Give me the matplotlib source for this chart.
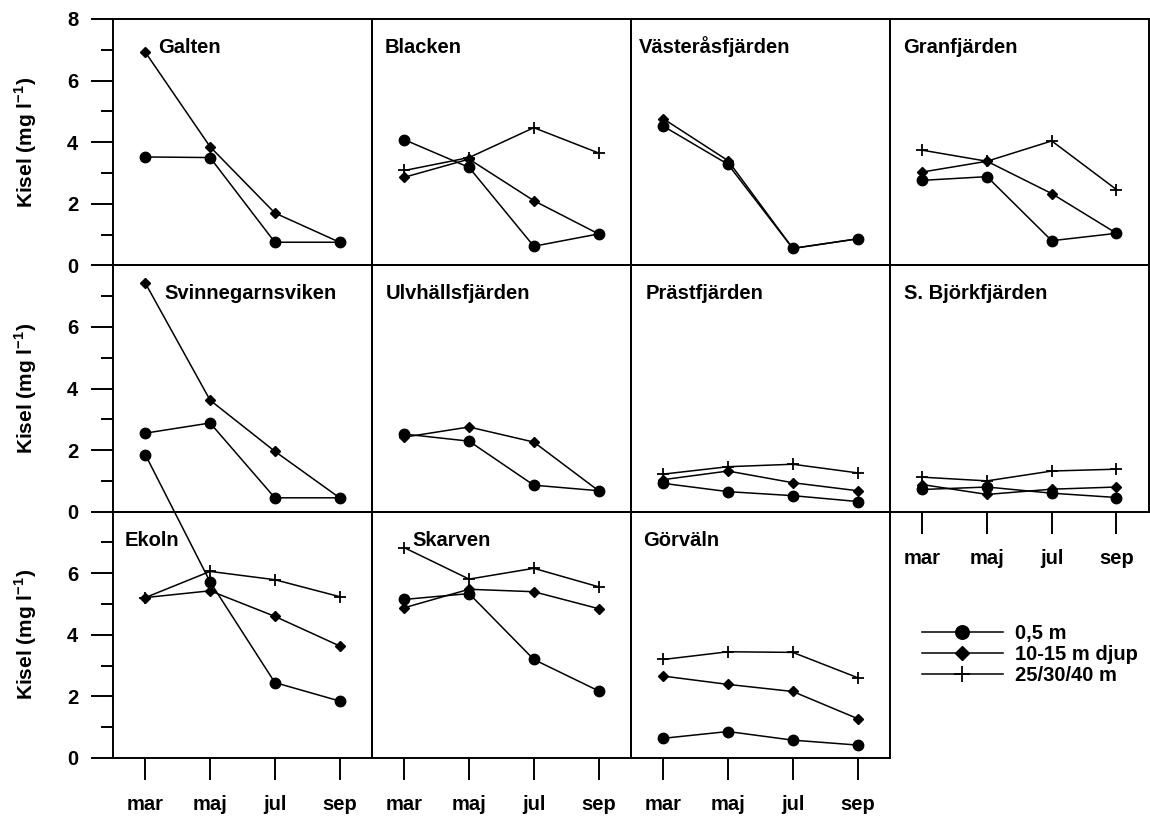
import matplotlib.pyplot as plt
from matplotlib.lines import Line2D

plt.rcParams['font.family'] = ['Liberation Sans', 'DejaVu Sans']
plt.rcParams['font.weight'] = 'bold'
plt.rcParams['mathtext.fontset'] = 'custom'
plt.rcParams['mathtext.rm'] = 'Liberation Sans:bold'
plt.rcParams['mathtext.bf'] = 'Liberation Sans:bold'

manader = ['mar', 'maj', 'jul', 'sep']
djup = ['0,5 m', '10-15 m djup', '25/30/40 m']

# Kisel (mg/l) per station och djup; None = inget prov på det djupet
galten_05 = [3.52, 3.50, 0.75, 0.75]
galten_10 = [6.92, 3.85, 1.70, 0.75]
galten_25 = None

blacken_05 = [4.08, 3.18, 0.62, 1.02]
blacken_10 = [2.86, 3.45, 2.10, 1.02]
blacken_25 = [3.08, 3.50, 4.47, 3.65]

vasteras_05 = [4.52, 3.28, 0.55, 0.86]
vasteras_10 = [4.76, 3.40, 0.55, 0.86]
vasteras_25 = None

granfj_05 = [2.76, 2.88, 0.80, 1.04]
granfj_10 = [3.03, 3.38, 2.33, 1.04]
granfj_25 = [3.74, 3.38, 4.04, 2.46]

svinne_05 = [2.55, 2.88, 0.45, 0.45]
svinne_10 = [7.42, 3.62, 1.96, 0.45]
svinne_25 = None

ulvhall_05 = [2.52, 2.29, 0.86, 0.68]
ulvhall_10 = [2.42, 2.75, 2.26, 0.68]
ulvhall_25 = None

prastfj_05 = [0.92, 0.65, 0.52, 0.33]
prastfj_10 = [1.04, 1.32, 0.94, 0.68]
prastfj_25 = [1.22, 1.46, 1.54, 1.26]

bjorkfj_05 = [0.72, 0.80, 0.60, 0.46]
bjorkfj_10 = [0.88, 0.56, 0.73, 0.80]
bjorkfj_25 = [1.12, 1.00, 1.32, 1.38]

ekoln_05 = [9.85, 5.72, 2.45, 1.85]
ekoln_10 = [5.21, 5.43, 4.60, 3.64]
ekoln_25 = [5.21, 6.06, 5.79, 5.24]

skarven_05 = [5.15, 5.34, 3.20, 2.18]
skarven_10 = [4.88, 5.48, 5.40, 4.85]
skarven_25 = [6.83, 5.81, 6.16, 5.56]

gorvaln_05 = [0.64, 0.86, 0.58, 0.42]
gorvaln_10 = [2.66, 2.39, 2.16, 1.28]
gorvaln_25 = [3.20, 3.45, 3.43, 2.61]

stationer = [
    ('Galten', galten_05, galten_10, galten_25),
    ('Blacken', blacken_05, blacken_10, blacken_25),
    ('Västeråsfjärden', vasteras_05, vasteras_10, vasteras_25),
    ('Granfjärden', granfj_05, granfj_10, granfj_25),
    ('Svinnegarnsviken', svinne_05, svinne_10, svinne_25),
    ('Ulvhällsfjärden', ulvhall_05, ulvhall_10, ulvhall_25),
    ('Prästfjärden', prastfj_05, prastfj_10, prastfj_25),
    ('S. Björkfjärden', bjorkfj_05, bjorkfj_10, bjorkfj_25),
    ('Ekoln', ekoln_05, ekoln_10, ekoln_25),
    ('Skarven', skarven_05, skarven_10, skarven_25),
    ('Görväln', gorvaln_05, gorvaln_10, gorvaln_25),
]

# titelns vänsterkant i axelkoordinater
titel_x = [0.174, 0.05, 0.03, 0.05, 0.20, 0.055, 0.058, 0.054, 0.046, 0.155, 0.046]

stilar = [
    dict(marker='o', markersize=7.5),
    dict(marker='D', markersize=5.5),
    dict(marker='+', markersize=9, markeredgewidth=1.3),
]

FS = 14.5
LW = 1.4

fig = plt.figure(figsize=(11.5, 8.16), dpi=100)
gs = fig.add_gridspec(3, 4, left=113 / 1150, right=0.999,
                      top=1 - 19 / 816, bottom=1 - 758 / 816,
                      wspace=0, hspace=0)

for i, (namn, v05, v10, v25) in enumerate(stationer):
    rad, kol = divmod(i, 4)
    ax = fig.add_subplot(gs[rad, kol])
    ax.set_facecolor('none')
    x = range(len(manader))
    for serie, stil in zip([v05, v10, v25], stilar):
        if serie is None:
            continue
        ax.plot(x, serie, color='black', linewidth=1.1, clip_on=False, **stil)

    ax.set_xlim(-0.5, 3.5)
    ax.set_ylim(0, 8)
    for sp in ax.spines.values():
        sp.set_linewidth(LW)

    ax.text(titel_x[i], 0.862, namn, transform=ax.transAxes,
            fontsize=FS, fontweight='bold', ha='left', va='baseline')

    if kol == 0:
        if rad == 0:
            ax.set_yticks([0, 2, 4, 6, 8])
        else:
            ax.set_yticks([0, 2, 4, 6])
        ax.set_yticks([1, 3, 5, 7], minor=True)
        ax.tick_params(axis='y', which='major', length=16, width=LW,
                       pad=9, labelsize=FS)
        ax.tick_params(axis='y', which='minor', length=9, width=LW)
        ax.set_ylabel(r'Kisel (mg l$^{\mathbf{-1}}$)', fontsize=FS + 0.5,
                      fontweight='bold')
        ax.yaxis.set_label_coords(-0.285, 0.5)
    else:
        ax.set_yticks([])

    if rad == 2 or i == 7:
        ax.set_xticks(list(x))
        ax.set_xticklabels(manader)
        ax.tick_params(axis='x', length=16, width=LW, pad=11, labelsize=FS)
    else:
        ax.set_xticks([])

# tom ruta nere till höger med teckenförklaring
handtag = [Line2D([], [], color='black', linewidth=1.1, **stil) for stil in stilar]
fig.legend(handtag, djup, loc='upper left',
           bbox_to_anchor=(922 / 1150, 1 - 624 / 816),
           frameon=False, fontsize=FS, handlelength=4.0, handletextpad=0.6,
           labelspacing=0.1, borderpad=0, borderaxespad=0, markerscale=1.3)

fig.savefig('out.png', dpi=100)
